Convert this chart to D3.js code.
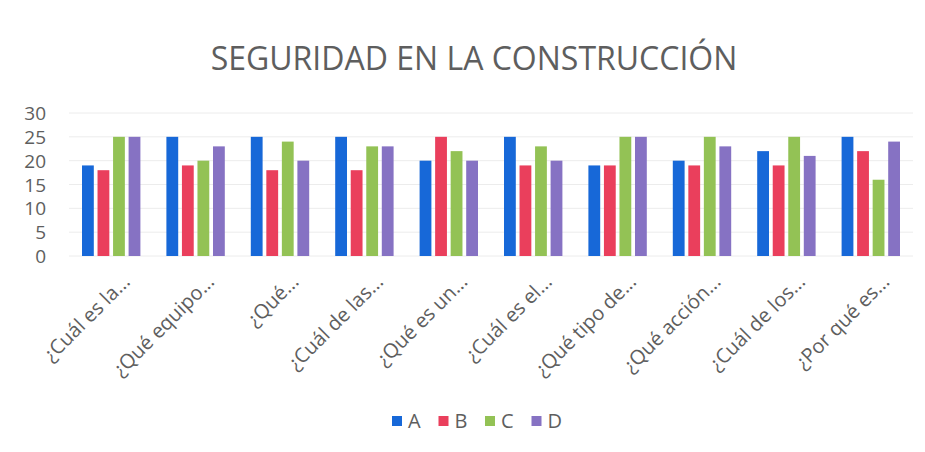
<!DOCTYPE html>
<html>
<head>
<meta charset="utf-8">
<script src="https://cdn.jsdelivr.net/npm/d3@7"></script>
<style>
  body { margin: 0; background: #fff; }
  text { font-family: "Open Sans", "Noto Sans", sans-serif; fill: #5e5e5e; }
</style>
</head>
<body>
<svg id="chart" width="925" height="452"></svg>
<script>
// datos
const preguntas = ["¿Cuál es la...", "¿Qué equipo...", "¿Qué...", "¿Cuál de las...", "¿Qué es un...",
  "¿Cuál es el...", "¿Qué tipo de...", "¿Qué acción...", "¿Cuál de los...", "¿Por qué es..."];
const series = ["A", "B", "C", "D"];
const valoresA = [19, 25, 25, 25, 20, 25, 19, 20, 22, 25];
const valoresB = [18, 19, 18, 18, 25, 19, 19, 19, 19, 22];
const valoresC = [25, 20, 24, 23, 22, 23, 25, 25, 25, 16];
const valoresD = [25, 23, 20, 23, 20, 20, 25, 23, 21, 24];
const yTicks = [0, 5, 10, 15, 20, 25, 30];
const colores = ["#1768d8", "#ea3f5c", "#93c255", "#8672c3"];

const valores = [valoresA, valoresB, valoresC, valoresD];
const data = preguntas.map((p, i) => ({ p, vals: series.map((s, j) => ({ s, v: valores[j][i] })) }));

const svg = d3.select("#chart");
const mLeft = 69, mRight = 913, mTop = 113, mBottom = 256;

// titulo
svg.append("text")
  .attr("x", 474)
  .attr("y", 70)
  .attr("text-anchor", "middle")
  .style("font-size", "32px")
  .text("SEGURIDAD EN LA CONSTRUCCIÓN");

const x0 = d3.scaleBand().domain(preguntas).range([mLeft, mRight]).paddingInner(0).paddingOuter(0);
const x1 = d3.scaleBand().domain(series).range([13, x0.bandwidth() - 13]).paddingInner(0.24);
const y = d3.scaleLinear().domain([0, 30]).range([mBottom, mTop]);

// rejilla
svg.append("g")
  .selectAll("line")
  .data(yTicks)
  .enter().append("line")
  .attr("x1", mLeft).attr("x2", mRight)
  .attr("y1", d => y(d)).attr("y2", d => y(d))
  .attr("stroke", "#ececec")
  .attr("stroke-width", 1);

// eje Y
const yAxis = svg.append("g")
  .attr("transform", `translate(${mLeft - 23},0)`)
  .call(d3.axisLeft(y).tickValues(yTicks).tickSize(0).tickPadding(0));
yAxis.select(".domain").remove();
yAxis.selectAll("text").style("font-size", "19px").attr("dy", "0.35em");

// barras
const g = svg.append("g")
  .selectAll("g")
  .data(data)
  .enter().append("g")
  .attr("transform", d => `translate(${x0(d.p)},0)`);

g.selectAll("rect")
  .data(d => d.vals)
  .enter().append("rect")
  .attr("x", d => x1(d.s))
  .attr("width", x1.bandwidth())
  .attr("y", d => y(d.v))
  .attr("height", d => y(0) - y(d.v))
  .attr("fill", (d, i) => colores[i]);

// etiquetas X
svg.append("g")
  .selectAll("text")
  .data(preguntas)
  .enter().append("text")
  .attr("transform", d => `translate(${x0(d) + x0.bandwidth() / 2 + 15},${mBottom + 22}) rotate(-45)`)
  .attr("text-anchor", "end")
  .attr("dy", "0.35em")
  .style("font-size", "20px")
  .text(d => d);

// leyenda
const leg = svg.append("g").attr("transform", "translate(392,421)");
series.forEach((s, i) => {
  const lg = leg.append("g").attr("transform", `translate(${i * 46.5},0)`);
  lg.append("rect").attr("x", 0).attr("y", -5).attr("width", 10).attr("height", 10).attr("fill", colores[i]);
  lg.append("text").attr("x", 16).attr("y", 0).attr("dy", "0.36em").style("font-size", "20px").text(s);
});
</script>
</body>
</html>
